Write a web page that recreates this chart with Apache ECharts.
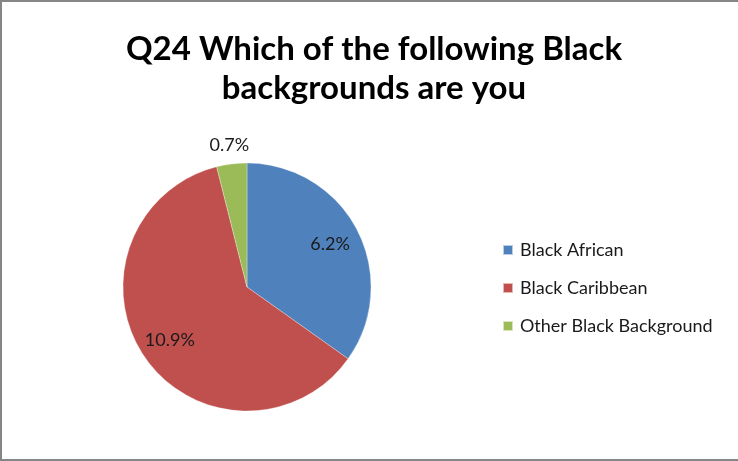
<!DOCTYPE html>
<html>
<head>
<meta charset="utf-8">
<script src="https://cdn.jsdelivr.net/npm/echarts@6/dist/echarts.min.js"></script>
<style>
  html, body { margin: 0; padding: 0; background: #fff; }
  #chart { width: 738px; height: 461px; }
</style>
</head>
<body>
<div id="chart"></div>
<script>
// Survey breakdown: share of respondents per Black background
const categories = ['Black African', 'Black Caribbean', 'Other Black Background'];
const values = [6.2, 10.9, 0.7];
const colors = ['#4F81BD', '#C0504D', '#9BBB59'];
// labels drawn inside the slice vs. just outside the rim
const labelOutside = [false, false, true];

const FONT = 'Lato, "Open Sans", sans-serif';
const CX = 247, CY = 287, R = 124;

const chart = echarts.init(document.getElementById('chart'), null, { renderer: 'canvas' });

const pieData = categories.map((name, i) => ({
  name, value: values[i], itemStyle: { color: colors[i] }
}));

// label ring: same angles as the pie, transparent, only carries the text
function labelRing(outside) {
  return {
    type: 'pie',
    silent: true,
    center: [CX, CY],
    radius: outside ? [R, R + 32] : [R * 0.46, R],
    startAngle: 90,
    clockwise: true,
    legendHoverLink: false,
    itemStyle: { color: 'rgba(0,0,0,0)', borderWidth: 0 },
    emphasis: { disabled: true },
    tooltip: { show: false },
    labelLine: { show: false },
    data: categories.map((name, i) => ({
      name: name + (outside ? ' ' : '  '),
      value: values[i],
      label: {
        show: labelOutside[i] === outside,
        position: 'inside',
        formatter: values[i].toFixed(1) + '%',
        color: '#1a1a1a',
        fontFamily: FONT,
        fontSize: 18
      }
    }))
  };
}

chart.setOption({
  animation: false,
  backgroundColor: '#fff',
  title: {
    text: 'Q24 Which of the following Black\nbackgrounds are you',
    left: 369,
    top: 25,
    textAlign: 'center',
    textStyle: {
      fontFamily: FONT,
      fontWeight: 'bold',
      fontSize: 33,
      lineHeight: 39,
      color: '#000'
    }
  },
  legend: {
    orient: 'vertical',
    left: 497,
    top: 236,
    itemWidth: 10,
    itemHeight: 10,
    itemGap: 20,
    icon: 'rect',
    data: categories,
    textStyle: { fontFamily: FONT, fontSize: 18, color: '#1a1a1a', padding: [0, 0, 0, 2] }
  },
  series: [
    {
      type: 'pie',
      center: [CX, CY],
      radius: [0, R],
      startAngle: 90,
      clockwise: true,
      label: { show: false },
      labelLine: { show: false },
      itemStyle: { borderColor: 'rgba(255,255,255,0.6)', borderWidth: 0.5 },
      emphasis: { disabled: true },
      data: pieData
    },
    labelRing(false),
    labelRing(true)
  ],
  graphic: [
    {
      type: 'polyline',
      shape: { points: [[738, 1], [1, 1], [1, 460], [738, 460]] },
      style: { stroke: '#868686', lineWidth: 2, fill: null },
      silent: true
    }
  ]
});
</script>
</body>
</html>
